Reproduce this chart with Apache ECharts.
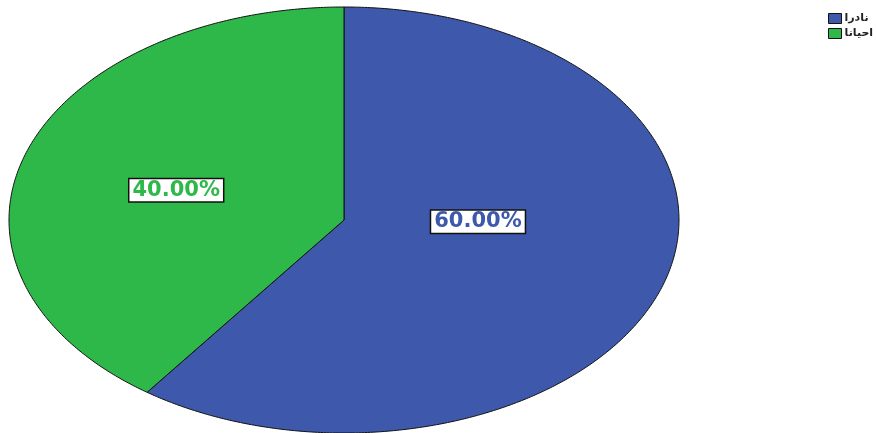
<!DOCTYPE html>
<html>
<head>
<meta charset="utf-8">
<script src="https://cdn.jsdelivr.net/npm/echarts@6/dist/echarts.min.js"></script>
<style>html,body{margin:0;padding:0;background:#fff}#c{width:878px;height:433px}</style>
</head>
<body>
<div id="c"></div>
<script>
var categories = ['نادرا', 'احيانا'];
var values = [60, 40];
var labels = ['60.00%', '40.00%'];
var colors = ['#3e58ac', '#2fb84a'];

// layout (ellipse geometry & label placement), not data
var CX = 344, CY = 220, RX = 335, RY = 213;
var labelAnchor = [{ang: 91.2, r: 0.40}, {ang: 285.6, r: 0.52}];

var total = values.reduce(function (a, b) { return a + b; }, 0);
var starts = [];
var acc = 0;
values.forEach(function (v) { starts.push(acc); acc += v; });

function pt(deg, r) {
  var t = deg * Math.PI / 180;
  return [CX + RX * r * Math.sin(t), CY - RY * r * Math.cos(t)];
}

var series = categories.map(function (name, i) {
  return {
    name: name,
    type: 'custom',
    coordinateSystem: 'none',
    itemStyle: {color: colors[i]},
    data: [[starts[i], values[i]]],
    renderItem: function (params, api) {
      var s = api.value(0) / total * 360;
      var e = (api.value(0) + api.value(1)) / total * 360;
      var pts = [[CX, CY]];
      var n = Math.max(2, Math.ceil((e - s) / 0.5));
      for (var k = 0; k <= n; k++) pts.push(pt(s + (e - s) * k / n, 1));
      var la = labelAnchor[i];
      var lp = pt(la.ang, la.r);
      return {
        type: 'group',
        children: [
          {type: 'polygon', shape: {points: pts}, style: {fill: colors[i], stroke: '#111', lineWidth: 1}},
          {type: 'text', x: lp[0], y: lp[1], z2: 10, style: {
            text: labels[i], fill: colors[i], font: 'bold 21px "DejaVu Sans"',
            align: 'center', verticalAlign: 'middle',
            backgroundColor: '#fff', borderColor: '#111', borderWidth: 1.5,
            padding: [1, 3, 0, 3]
          }}
        ]
      };
    }
  };
});

var chart = echarts.init(document.getElementById('c'));
chart.setOption({
  animation: false,
  legend: {
    data: categories,
    orient: 'vertical',
    left: 823, top: 8,
    itemWidth: 13, itemHeight: 10, itemGap: 4,
    icon: 'rect',
    itemStyle: {borderColor: '#111', borderWidth: 1},
    textStyle: {fontSize: 11, fontWeight: 'bold', color: '#222', fontFamily: 'DejaVu Sans', padding: [0, 0, 0, -2]}
  },
  series: series
});
</script>
</body>
</html>
